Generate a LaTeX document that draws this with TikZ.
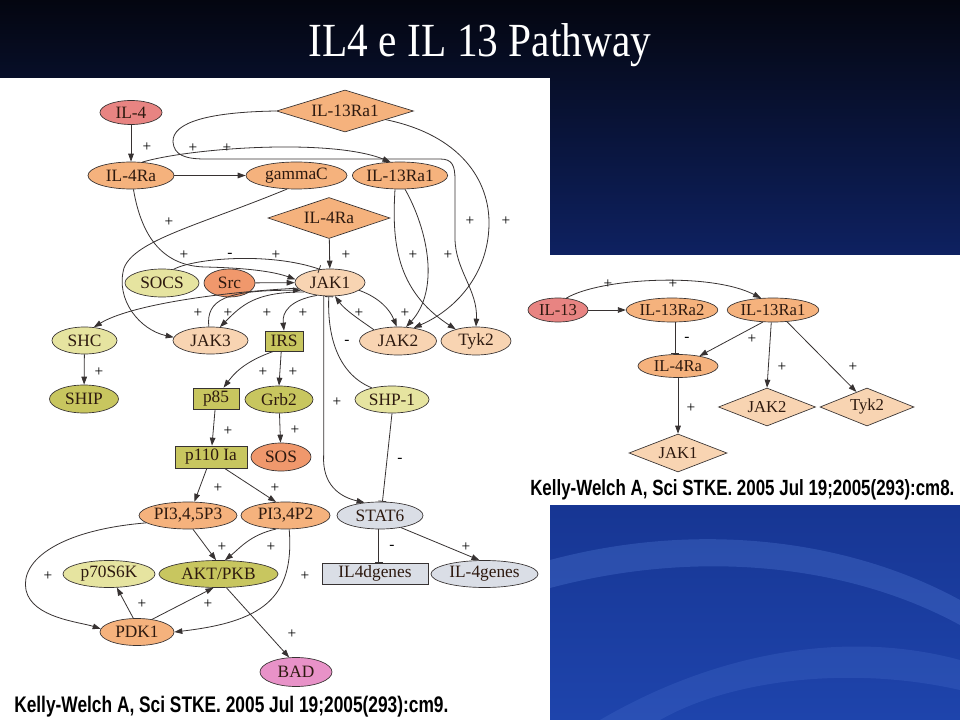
\documentclass[tikz,border=0pt]{standalone}
\usepackage{fontspec}
\setmainfont{Liberation Serif}
\newfontfamily\citefont{Liberation Sans}
\usetikzlibrary{shapes.geometric,arrows.meta,calc}
\definecolor{cred}{RGB}{232,132,130}
\definecolor{corange}{RGB}{245,178,125}
\definecolor{cdorange}{RGB}{240,152,108}
\definecolor{cpeach}{RGB}{248,212,178}
\definecolor{cyg}{RGB}{230,228,160}
\definecolor{colive}{RGB}{200,198,95}
\definecolor{cgrey}{RGB}{218,222,230}
\definecolor{cpink}{RGB}{232,146,200}
\definecolor{cedge}{RGB}{55,50,50}
\definecolor{ctext}{RGB}{45,25,15}
\definecolor{bgtop}{RGB}{4,6,16}
\definecolor{bgmid}{RGB}{18,44,130}
\definecolor{bgbot}{RGB}{30,68,172}
\definecolor{swoosh}{RGB}{90,130,220}
\begin{document}
\begin{tikzpicture}[x=0.75pt,y=-0.75pt,
  nd/.style={draw=cedge, line width=0.5pt, inner sep=0pt, text=ctext, font=\fontsize{13}{15}\selectfont},
  ell/.style={nd, ellipse},
  box/.style={nd, rectangle},
  dia/.style={nd, diamond},
  rnd/.style={font=\fontsize{12.5}{14}\selectfont},
  sz/.style 2 args={minimum width={#1*0.75pt}, minimum height={#2*0.75pt}},
  act/.style={draw=cedge, line width=0.6pt, -{Triangle[length=6pt,width=4.2pt]}},
  inh/.style={draw=cedge, line width=0.6pt, -{Bar[width=6pt]}},
  lab/.style={font=\fontsize{11.5}{12}\selectfont, text=black, inner sep=0pt},
  cite/.style={font=\citefont\bfseries\fontsize{13}{15}\selectfont, text=black, inner sep=0pt, anchor=west, yscale=1.3}
]
\useasboundingbox (0,0) rectangle (960,720);
% background
\shade[top color=bgtop, bottom color=bgbot, middle color=bgmid] (0,0) rectangle (960,720);
\fill[swoosh, opacity=0.30] (550,560) .. controls (700,520) and (850,540) .. (960,600) -- (960,625) .. controls (850,565) and (700,548) .. (550,588) -- cycle;
\fill[swoosh, opacity=0.20] (600,720) .. controls (720,650) and (850,630) .. (960,660) -- (960,690) .. controls (850,665) and (730,680) .. (660,720) -- cycle;
\fill[white] (0,78) rectangle (550,720);
\fill[white] (525,255) rectangle (960,505);
% title
\node[font=\fontsize{31}{36}\selectfont, text=white, yscale=1.15] (title) at (480,45) {IL4 e IL 13 Pathway};

% ---------- left panel nodes ----------
\node[ell, fill=cred, sz={62}{24}] (IL4) at (131,112.5) {IL-4};
\node[ell, fill=corange, sz={86}{27}] (IL4Ra) at (131,175.5) {IL-4Ra};
\node[ell, fill=corange, sz={101}{27}] (gammaC) at (296.5,175.5) {gammaC};
\node[ell, fill=corange, sz={95}{27}] (IL13Ra1) at (400,175.5) {IL-13Ra1};
\node[dia, aspect=3.26, fill=corange, sz={137}{42}] (IL13Ra1d) at (345,111) {IL-13Ra1};
\node[dia, aspect=2.98, fill=corange, sz={122}{41}] (IL4Rad) at (329,218) {IL-4Ra};
\node[ell, fill=cpeach, sz={70}{27}] (JAK1) at (330,282.5) {JAK1};
\node[ell, fill=cyg, sz={74}{28}] (SOCS) at (162,283) {SOCS};
\node[ell, fill=cdorange, sz={51}{28}] (Src) at (229.5,283) {Src};
\node[ell, fill=cyg, sz={65}{27}] (SHC) at (84.5,340.5) {SHC};
\node[ell, fill=cpeach, sz={75}{27}] (JAK3) at (210.5,340.5) {JAK3};
\node[box, fill=colive, sz={38}{20}] (IRS) at (284,341) {IRS};
\node[ell, fill=cpeach, sz={77}{28}] (JAK2) at (398,341) {JAK2};
\node[ell, fill=cpeach, sz={70}{28}] (Tyk2) at (476,341) {Tyk2};
\node[ell, fill=colive, sz={69}{28}] (SHIP) at (84,399) {SHIP};
\node[box, fill=colive, sz={46}{21}] (p85) at (216,398.5) {p85};
\node[ell, fill=colive, sz={68}{27}] (Grb2) at (279,399.5) {Grb2};
\node[ell, fill=cyg, sz={74}{27}] (SHP1) at (392,399.5) {SHP-1};
\node[box, fill=colive, sz={72}{22}] (p110) at (211,457) {p110 Ia};
\node[ell, fill=cdorange, sz={60}{28}] (SOS) at (281,457) {SOS};
\node[ell, fill=corange, sz={98}{27}] (PI345) at (188,515.5) {PI3,4,5P3};
\node[ell, fill=corange, sz={89}{27}] (PI34) at (285.5,515.5) {PI3,4P2};
\node[ell, fill=cgrey, sz={86}{27}] (STAT6) at (380,515.5) {STAT6};
\node[ell, fill=cyg, sz={92}{27}] (p70) at (109,574) {p70S6K};
\node[ell, fill=colive, sz={119}{27}] (AKT) at (218.5,574) {AKT/PKB};
\node[box, fill=cgrey, sz={106}{21}] (IL4dg) at (375,573.5) {IL4dgenes};
\node[ell, fill=cgrey, sz={107}{27}] (IL4g) at (484.5,574) {IL-4genes};
\node[ell, fill=corange, sz={74}{27}] (PDK1) at (137,632) {PDK1};
\node[ell, fill=cpink, sz={72}{29}] (BAD) at (296,672) {BAD};

% ---------- left panel edges ----------
\draw[act] (IL4) -- (IL4Ra);
\draw[act] (IL4Ra) -- (gammaC);
\draw[act] (IL4Ra.50) .. controls (190,148) and (330,138) .. (IL13Ra1.125);
\draw[act] (IL13Ra1d.west) .. controls (210,112) and (172,122) .. (173,142) .. controls (174,155) and (185,159) .. (205,159) -- (440,159) .. controls (452,159) and (455,165) .. (455,180) -- (455,238) .. controls (455,270) and (478,290) .. (Tyk2.north);
\draw[act] (IL13Ra1d.-12) .. controls (460,135) and (490,180) .. (489,225) .. controls (488,275) and (455,310) .. (JAK2.40);
\draw[act] (IL13Ra1.250) .. controls (392,240) and (395,290) .. (Tyk2.150);
\draw[act] (IL13Ra1.290) .. controls (428,230) and (440,290) .. (JAK2.60);
\draw[act] (gammaC.235) .. controls (200,225) and (135,240) .. (124,268) .. controls (115,300) and (140,330) .. (JAK3.175);
\draw[act] (IL4Ra.280) .. controls (142,240) and (165,266) .. (205,267) .. controls (250,268) and (275,272) .. (JAK1.175);
\draw[inh] (SOCS.50) .. controls (195,258) and (270,252) .. (JAK1.128);
\draw[act] (Src) -- (JAK1);
\draw[act] (JAK3.97) .. controls (206,300) and (225,290) .. (JAK1.195);
\draw[act] (JAK1.200) .. controls (255,292) and (242,305) .. (JAK3.55);
\draw[act] (JAK1.190) .. controls (220,292) and (130,305) .. (SHC.55);
\draw[act] (JAK1.225) .. controls (290,300) and (282,312) .. (IRS.north);
\draw[act] (IL4Rad) -- (JAK1);
\draw[inh] (SHP1.150) .. controls (340,375) and (327,340) .. (JAK1.265);
\draw[act] (JAK1.245) -- (JAK1.245 |- 0,455) .. controls (322,485) and (340,497) .. (STAT6.140);
\draw[act] (JAK2.155) .. controls (360,320) and (345,310) .. (JAK1.290);
\draw[act] (JAK1.345) .. controls (380,298) and (390,310) .. (JAK2.95);
\draw[inh] (SHP1.south) -- (STAT6.80);
\draw[inh] (STAT6.265) -- (STAT6.265 |- IL4dg.north);
\draw[act] (STAT6.330) -- (IL4g.110);
\draw[act] (IRS.225) .. controls (243,362) and (233,375) .. (p85.55);
\draw[act] (IRS.255) -- (Grb2.north);
\draw[act] (SHC) -- (SHIP);
\draw[act] (p85) -- (p110);
\draw[act] (Grb2) -- (SOS);
\draw[act] (p110.250) -- (PI345.65);
\draw[act] (p110.320) -- (PI34.125);
\draw[act] (PI345.290) -- (AKT.100);
\draw[act] (PI34.235) .. controls (250,535) and (240,548) .. (AKT.65);
\draw[act] (PI345.190) .. controls (60,530) and (20,560) .. (26,590) .. controls (32,618) and (80,622) .. (PDK1.175);
\draw[act] (PI34.285) .. controls (295,600) and (260,622) .. (PDK1.east);
\draw[act] (PDK1.105) -- (p70.300);
\draw[act] (PDK1.40) -- (AKT.250);
\draw[act] (AKT.300) -- (BAD.115);

% ---------- left panel labels ----------
\node[lab] (l1) at (147,147) {+};
\node[lab] (l2) at (193,148) {+};
\node[lab] (l3) at (227,148) {+};
\node[lab] (l4) at (169,222) {+};
\node[lab] (l5) at (470,221) {+};
\node[lab] (l6) at (506,221) {+};
\node[lab] (l7) at (184,255) {+};
\node[lab] (l8) at (230,255) {-};
\node[lab] (l9) at (276,255) {+};
\node[lab] (l10) at (346,255) {+};
\node[lab] (l11) at (413,255) {+};
\node[lab] (l12) at (448,255) {+};
\node[lab] (l13) at (198,313) {+};
\node[lab] (l14) at (228,313) {+};
\node[lab] (l15) at (267,313) {+};
\node[lab] (l16) at (303,313) {+};
\node[lab] (l17) at (359,313) {+};
\node[lab] (l18) at (405,313) {+};
\node[lab] (l19) at (347,342) {-};
\node[lab] (l20) at (99,372) {+};
\node[lab] (l21) at (263,372) {+};
\node[lab] (l22) at (293,372) {+};
\node[lab] (l23) at (337,402) {+};
\node[lab] (l24) at (228,431) {+};
\node[lab] (l25) at (295,430) {+};
\node[lab] (l26) at (400,460) {-};
\node[lab] (l27) at (218,488) {+};
\node[lab] (l28) at (275,488) {+};
\node[lab] (l29) at (222,547) {+};
\node[lab] (l30) at (271,547) {+};
\node[lab] (l31) at (392,547) {-};
\node[lab] (l32) at (466,547) {+};
\node[lab] (l33) at (48,576) {+};
\node[lab] (l34) at (305,576) {+};
\node[lab] (l35) at (142,604) {+};
\node[lab] (l36) at (208,604) {+};
\node[lab] (l37) at (292,634) {+};

\node[cite] (citeL) at (14,707) {Kelly-Welch A, Sci STKE. 2005 Jul 19;2005(293):cm9.};

% ---------- right panel ----------
\node[ell, rnd, fill=cred, sz={60}{24}] (rIL13) at (558,310) {IL-13};
\node[ell, rnd, fill=corange, sz={88}{24}] (rIL13Ra2) at (672,310) {IL-13Ra2};
\node[ell, rnd, fill=corange, sz={80}{24}] (rIL13Ra1) at (773,310) {IL-13Ra1};
\node[ell, rnd, fill=corange, sz={80}{23}] (rIL4Ra) at (678,366) {IL-4Ra};
\node[dia, rnd, aspect=2.58, fill=cpeach, sz={98}{38}] (rJAK1) at (678,453) {JAK1};
\node[dia, rnd, aspect=2.55, fill=cpeach, sz={97}{38}] (rJAK2) at (767,407) {JAK2};
\node[dia, rnd, aspect=2.47, fill=cpeach, sz={94}{38}] (rTyk2) at (867,407) {Tyk2};

\draw[act] (rIL13) -- (rIL13Ra2);
\draw[act] (rIL13.55) .. controls (600,278) and (710,272) .. (rIL13Ra1.135);
\draw[inh] (rIL13Ra2.285) -- (rIL13Ra2.285 |- rIL4Ra.north);
\draw[act] (rIL13Ra1.230) -- (rIL4Ra.25);
\draw[act] (rIL4Ra) -- (rJAK1);
\draw[act] (rIL13Ra1.262) -- (rJAK2.north);
\draw[act] (rIL13Ra1.320) -- (rTyk2.125);

\node[lab] (r1) at (608,284) {+};
\node[lab] (r2) at (673,284) {+};
\node[lab] (r3) at (687,339) {-};
\node[lab] (r4) at (752,339) {+};
\node[lab] (r5) at (691,408) {+};
\node[lab] (r6) at (782,367) {+};
\node[lab] (r7) at (853,367) {+};

\node[cite, font=\citefont\bfseries\fontsize{12.7}{15}\selectfont] (citeR) at (530,490) {Kelly-Welch A, Sci STKE. 2005 Jul 19;2005(293):cm8.};
\end{tikzpicture}
\end{document}
